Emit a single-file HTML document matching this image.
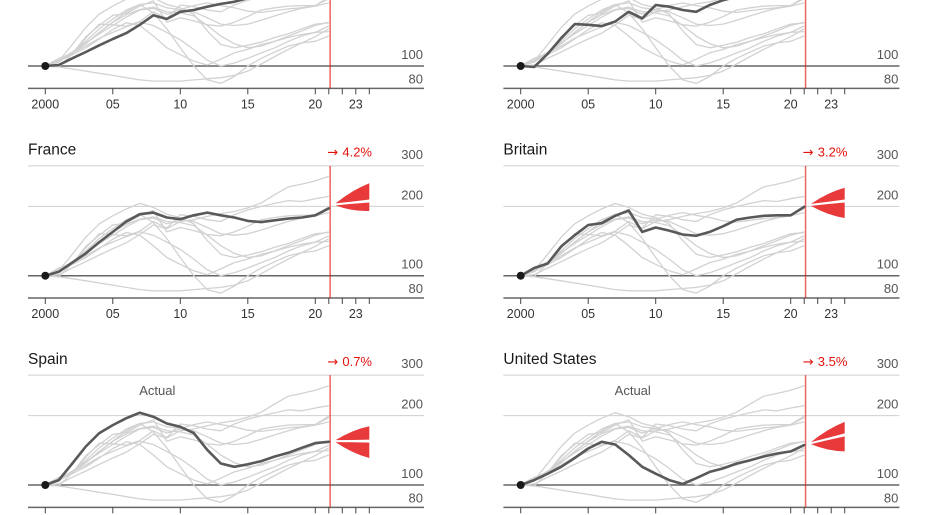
<!DOCTYPE html>
<html><head><meta charset="utf-8">
<style>
html,body{margin:0;padding:0;background:#fff;}
svg{display:block;font-family:"Liberation Sans",sans-serif;}
</style></head>
<body>
<svg id="chart" width="928" height="515" viewBox="0 0 928 515" xmlns="http://www.w3.org/2000/svg"></svg>
<script>
const years = [2000,2001,2002,2003,2004,2005,2006,2007,2008,2009,2010,2011,2012,2013,2014,2015,2016,2017,2018,2019,2020,2021];
const topLeft  = [100,101,108,115,123,131,139,151,166,160,172,175,181,186,190,197,207,225,243,250,258,270];
const topRight = [100,99,113,132,152,151,149,156,172,161,184,181,175,172,184,193,200,206,212,210,216,221];
const france   = [100,104,114,125,140,155,172,185,188,179,176,183,188,183,179,173,171,174,177,179,183,196];
const britain  = [100,108,113,134,150,166,169,182,192,155,162,157,151,149,155,164,175,179,182,183,183,199];
const spain    = [100,105,124,147,168,182,195,206,198,185,179,168,142,124,120,123,127,133,138,145,152,154];
const us       = [100,105,112,120,131,144,154,150,135,120,112,105,101,107,114,118,124,128,133,137,140,149];
const ireland  = [100,106,114,128,145,160,175,185,170,145,120,100,87,84,90,100,108,115,122,126,128,135];
const germany  = [100,99,97,95,93,91,89,87,86,86,86,87,88,89,91,95,102,110,118,126,134,145];
const neth     = [100,106,114,122,132,140,148,155,150,140,130,118,106,100,103,108,114,120,128,135,140,141];
const italy    = [100,106,114,125,140,155,167,176,180,172,170,165,150,135,125,120,122,128,135,142,150,155];
const sweden   = [100,106,115,126,138,150,163,175,178,168,175,172,162,152,150,152,158,165,172,178,182,188];
const allSeries = [topLeft,topRight,france,britain,spain,us,ireland,germany,neth,italy,sweden];
const titles = ["","","France","Britain","Spain","United States"];
const highlights = [topLeft,topRight,france,britain,spain,us];
const forecastLabels = ["","","4.2%","3.2%","0.7%","3.5%"];
const fanStart = [null,null,204,203,155,152];
const fanHigh  = [null,null,252,241,180,188];
const fanMid   = [null,null,211,211,155,165];
const fanLow   = [null,null,191,178,131,140];
const gridValues = [300,200,100,80];
const gridLabels = ["300","200","100","80"];
const tickYears = [2000,2005,2010,2015,2020,2021,2022,2023,2024];
const tickLabels = ["2000","05","10","15","20","","","23",""];
const showActual = [false,false,false,false,true,true];

const NS="http://www.w3.org/2000/svg";
const svg=document.getElementById('chart');
function mk(tag,attrs,parent){const e=document.createElementNS(NS,tag);for(const k in attrs)e.setAttribute(k,attrs[k]);(parent||svg).appendChild(e);return e;}
const rowY100=[66,275.7,485];
const colOff=[0,475.4];
const K=100;
function xs(yr,c){return 45.3+colOff[c]+13.5*(yr-2000);}
function ys(v,r){return rowY100[r]-K*Math.log(v/100);}

for(let p=0;p<6;p++){
  const r=Math.floor(p/2), c=p%2;
  const g=mk('g',{});
  
  
  const x0=28+colOff[c], x1=424+colOff[c];
  gridValues.forEach((v,i)=>{
    const y=ys(v,r);
    const ln=mk('line',{x1:x0,x2:x1,y1:y,y2:y,stroke:v===300||v===200?'#cfcfcf':'#666','stroke-width':v===300||v===200?1:1.5},g);
    
    
    const t=mk('text',{x:x1-1,y:v===80?y-5:y-7,'text-anchor':'end','font-size':13,fill:'#555'},g);
    t.textContent=gridLabels[i];
    
    
  });
  const yAx=ys(80,r);
  tickYears.forEach((yr,i)=>{
    const x=xs(yr,c);
    const tk=mk('line',{x1:x,x2:x,y1:yAx,y2:yAx+6,stroke:'#444','stroke-width':1},g);
    
    
    if(tickLabels[i]){
      const t=mk('text',{x:x,y:yAx+20,'text-anchor':'middle','font-size':12.5,fill:'#333'},g);
      t.textContent=tickLabels[i];
      
      
    }
  });
  allSeries.forEach(s=>{
    if(s===highlights[p])return;
    const pts=s.map((v,i)=>xs(years[i],c).toFixed(1)+','+ys(v,r).toFixed(1)).join(' ');
    const pl=mk('polyline',{points:pts,fill:'none',stroke:'#d2d2d2','stroke-width':1.3,'stroke-linejoin':'round'},g);
    
    
  });
  const rx=xs(2021.1,c);
  const rl=mk('line',{x1:rx,x2:rx,y1:r===0?0:ys(300,r),y2:yAx,stroke:'#e3120b','stroke-opacity':0.65,'stroke-width':1.5},g);
  
  
  const h=highlights[p];
  const pts=h.map((v,i)=>xs(years[i],c).toFixed(1)+','+ys(v,r).toFixed(1)).join(' ');
  const hl=mk('polyline',{points:pts,fill:'none',stroke:'#595959','stroke-width':2.6,'stroke-linejoin':'round','stroke-linecap':'round'},g);
  
  
  const dot=mk('circle',{cx:xs(2000,c),cy:ys(100,r),r:4,fill:'#1a1a1a'},g);
  
  
  if(fanStart[p]){
    const sx=xs(2021.5,c), ex=xs(2024,c);
    const sy=ys(fanStart[p],r), hy=ys(fanHigh[p],r), my=ys(fanMid[p],r), ly=ys(fanLow[p],r);
    const mx=(sx+ex)/2;
    const up=mk('path',{d:`M${sx},${sy-1} Q${mx},${(sy+hy)/2-4} ${ex},${hy} L${ex},${my-1.5} Q${mx},${(sy+my)/2-1} ${sx},${sy-1} Z`,fill:'#e8393b'},g);
    
    
    const lo=mk('path',{d:`M${sx},${sy+1} Q${mx},${(sy+my)/2+1} ${ex},${my+1.5} L${ex},${ly} Q${mx},${(sy+ly)/2+4} ${sx},${sy+1} Z`,fill:'#e8393b'},g);
    
    
  }
  if(titles[p]){
    const t=mk('text',{x:x0,y:rowY100[r]-121,'font-size':15.5,fill:'#1a1a1a'},g);
    t.textContent=titles[p];
    
    
    const f=mk('text',{x:xs(2024.2,c),y:rowY100[r]-119,'text-anchor':'end','font-size':13,fill:'#e3120b'},g);
    
    
    const ar=mk('tspan',{'font-family':'"DejaVu Sans",sans-serif','font-size':13},f);
    ar.textContent='\u2192 ';
    const vt=mk('tspan',{},f);
    vt.textContent=forecastLabels[p];
  }
  if(showActual[p]){
    const a=mk('text',{x:xs(2008.3,c),y:rowY100[r]-90,'text-anchor':'middle','font-size':13,fill:'#555'},g);
    a.textContent='Actual';
    
    
  }
}
</script>
</body></html>
